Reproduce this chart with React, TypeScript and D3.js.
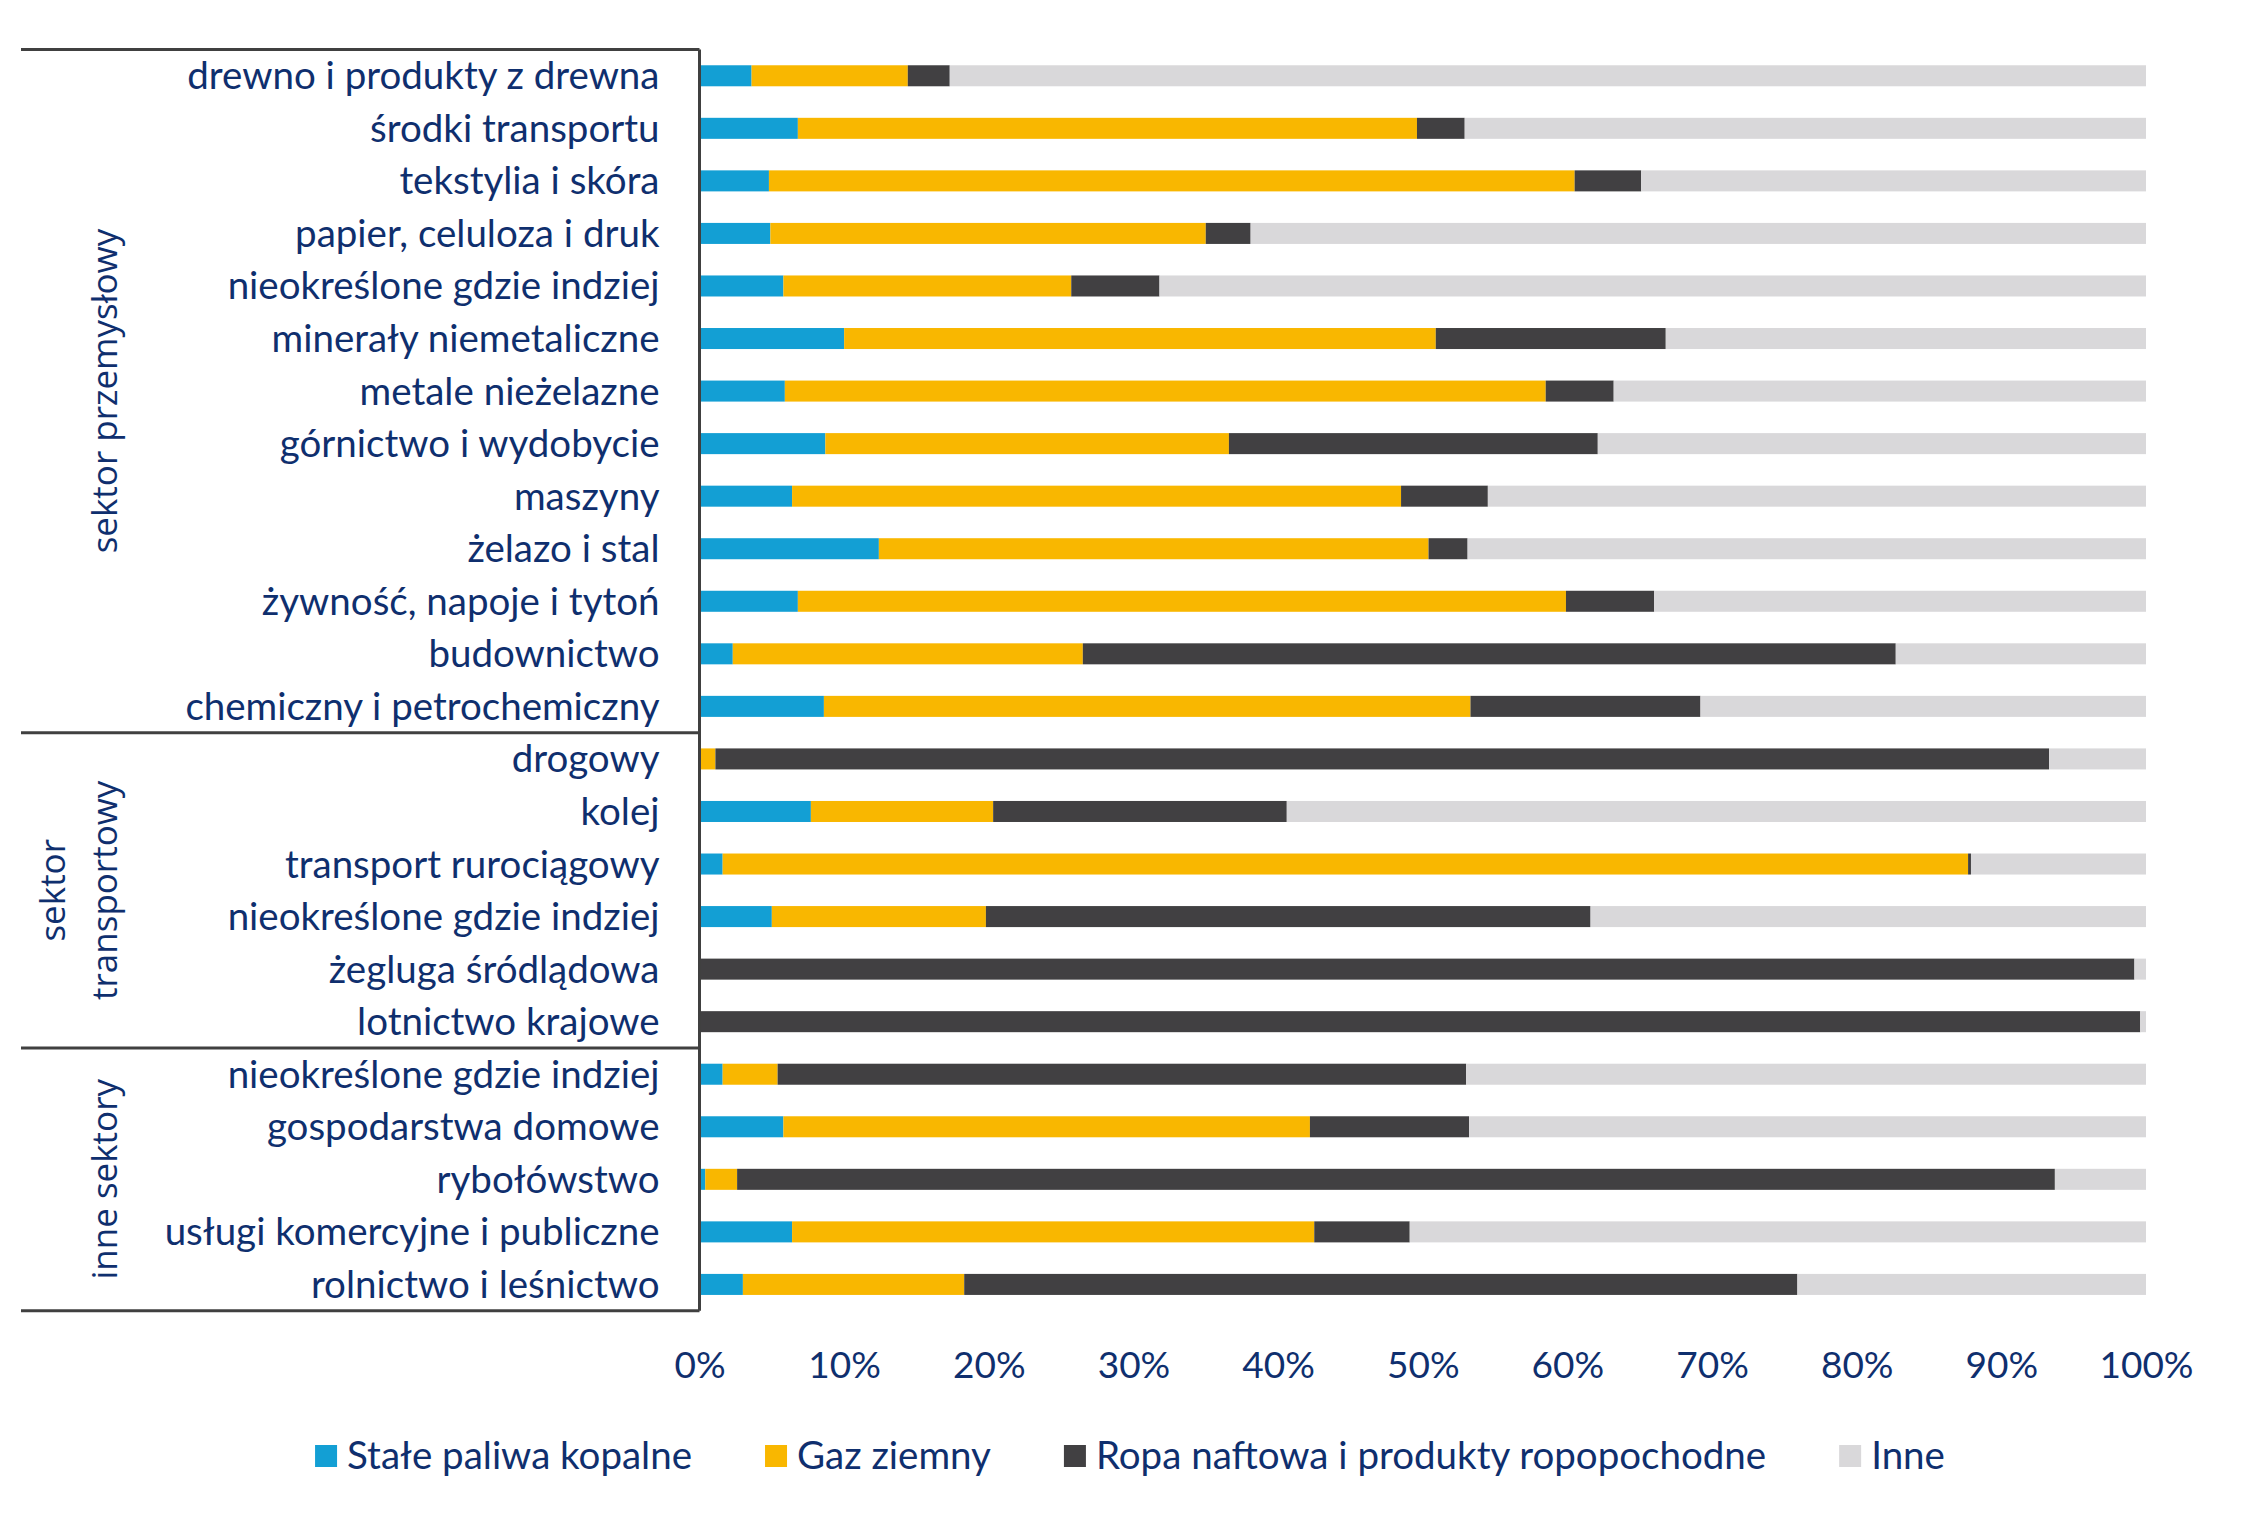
import * as d3 from 'd3';
import React from 'react';

// rows top to bottom, grouped by sector
const categories = [
    'drewno i produkty z drewna',
    'środki transportu',
    'tekstylia i skóra',
    'papier, celuloza i druk',
    'nieokreślone gdzie indziej',
    'minerały niemetaliczne',
    'metale nieżelazne',
    'górnictwo i wydobycie',
    'maszyny',
    'żelazo i stal',
    'żywność, napoje i tytoń',
    'budownictwo',
    'chemiczny i petrochemiczny',
    'drogowy',
    'kolej',
    'transport rurociągowy',
    'nieokreślone gdzie indziej',
    'żegluga śródlądowa',
    'lotnictwo krajowe',
    'nieokreślone gdzie indziej',
    'gospodarstwa domowe',
    'rybołówstwo',
    'usługi komercyjne i publiczne',
    'rolnictwo i leśnictwo',
];

// shares in % per row (same order as categories)
const solidFuels = [3.6, 6.8, 4.8, 4.9, 5.8, 10.0, 5.9, 8.7, 6.4, 12.4, 6.8, 2.3, 8.6, 0, 7.7, 1.6, 5.0, 0, 0, 1.6, 5.8, 0.4, 6.4, 3.0];
const naturalGas = [10.8, 42.8, 55.7, 30.1, 19.9, 40.9, 52.6, 27.9, 42.1, 38.0, 53.1, 24.2, 44.7, 1.1, 12.6, 86.1, 14.8, 0, 0, 3.8, 36.4, 2.2, 36.1, 15.3];
const crudeOil = [2.9, 3.3, 4.6, 3.1, 6.1, 15.9, 4.7, 25.5, 6.0, 2.7, 6.1, 56.2, 15.9, 92.2, 20.3, 0.2, 41.8, 99.2, 99.6, 47.6, 11.0, 91.1, 6.6, 57.6];
const otherFuels = [82.7, 47.1, 34.9, 61.9, 68.2, 33.2, 36.8, 37.9, 45.5, 46.9, 34.0, 17.3, 30.8, 6.7, 59.4, 12.1, 38.4, 0.8, 0.4, 47.0, 46.8, 6.3, 50.9, 24.1];

const seriesNames = ['Stałe paliwa kopalne', 'Gaz ziemny', 'Ropa naftowa i produkty ropopochodne', 'Inne'];
const seriesColors = ['#139fd4', '#f9b700', '#414042', '#d9d8da'];

const groupLabels = [['sektor przemysłowy'], ['sektor', 'transportowy'], ['inne sektory']];
const groupSizes = [13, 6, 5];

const xTicks = [0, 10, 20, 30, 40, 50, 60, 70, 80, 90, 100];

class EnergyMixChart extends React.Component {
    componentDidMount() {
        this.plot();
    }

    plot() {
        const width = 2243, height = 1523;
        const margin = { top: 49.5, left: 699.5, right: 97 };
        const rowStep = 52.55;
        const textColor = '#0f2f6e';
        const lineColor = '#404040';
        const labelFont = 'Lato, "Open Sans", sans-serif';

        const svg = d3.select('#energyChart');
        svg.selectAll('*').remove();

        svg.append('rect')
            .attr('width', width)
            .attr('height', height)
            .attr('fill', '#fff');

        const keys = ['solid', 'gas', 'oil', 'other'];
        const table = categories.map((c, i) => ({
            idx: i,
            solid: solidFuels[i],
            gas: naturalGas[i],
            oil: crudeOil[i],
            other: otherFuels[i],
        }));

        const x = d3.scaleLinear()
            .domain([0, 100])
            .range([margin.left, width - margin.right]);

        const bottom = margin.top + categories.length * rowStep;
        const y = d3.scaleBand()
            .domain(d3.range(categories.length))
            .range([margin.top, bottom])
            .paddingInner(0.6)
            .paddingOuter(0.3);

        const color = d3.scaleOrdinal().domain(keys).range(seriesColors);

        const stacked = d3.stack().keys(keys)(table);

        // stacked bars
        svg.append('g')
            .selectAll('g')
            .data(stacked)
            .join('g')
            .attr('fill', (d) => color(d.key))
            .selectAll('rect')
            .data((d) => d)
            .join('rect')
            .attr('x', (d) => x(d[0]))
            .attr('y', (d) => y(d.data.idx))
            .attr('width', (d) => Math.max(0, x(d[1]) - x(d[0])))
            .attr('height', y.bandwidth());

        // category labels
        svg.append('g')
            .selectAll('text')
            .data(categories)
            .join('text')
            .attr('x', margin.left - 40)
            .attr('y', (d, i) => y(i) + y.bandwidth() / 2)
            .attr('dy', '0.35em')
            .attr('text-anchor', 'end')
            .attr('fill', textColor)
            .style('font-family', labelFont)
            .style('font-size', '38.5px')
            .text((d) => d);

        // sector brackets
        const bounds = [0];
        groupSizes.forEach((s) => bounds.push(bounds[bounds.length - 1] + s));
        const brackets = svg.append('g')
            .attr('stroke', lineColor)
            .attr('stroke-width', 3);
        bounds.forEach((b) => {
            const yy = margin.top + b * rowStep;
            brackets.append('line')
                .attr('x1', 21)
                .attr('x2', margin.left)
                .attr('y1', yy)
                .attr('y2', yy);
        });
        brackets.append('line')
            .attr('x1', margin.left)
            .attr('x2', margin.left)
            .attr('y1', margin.top)
            .attr('y2', bottom);

        // rotated sector names
        groupLabels.forEach((lines, gi) => {
            const cy = margin.top + (bounds[gi] + bounds[gi + 1]) / 2 * rowStep;
            lines.forEach((line, li) => {
                const bx = 117 - (lines.length - 1 - li) * 52;
                svg.append('text')
                    .attr('transform', `translate(${bx},${cy}) rotate(-90)`)
                    .attr('text-anchor', 'middle')
                    .attr('fill', textColor)
                    .style('font-family', '"Open Sans", sans-serif')
                    .style('font-size', '35px')
                    .text(line);
            });
        });

        // percent axis
        const xAxis = d3.axisBottom(x)
            .tickValues(xTicks)
            .tickFormat((d) => `${d}%`)
            .tickSize(0)
            .tickPadding(0);

        const axisG = svg.append('g')
            .attr('transform', `translate(0,${1352})`)
            .call(xAxis);
        axisG.select('.domain').remove();
        axisG.selectAll('text')
            .attr('fill', textColor)
            .style('font-family', labelFont)
            .style('font-size', '37px');

        // legend, laid out left to right from the measured label widths
        const legend = svg.append('g');
        let cursor = 0;
        seriesNames.forEach((name, i) => {
            const item = legend.append('g').attr('transform', `translate(${cursor},0)`);
            item.append('rect')
                .attr('x', 0)
                .attr('y', -11)
                .attr('width', 22)
                .attr('height', 22)
                .attr('fill', seriesColors[i]);
            const label = item.append('text')
                .attr('x', 32)
                .attr('dy', '0.35em')
                .attr('fill', textColor)
                .style('font-family', labelFont)
                .style('font-size', '38.5px')
                .text(name);
            const w = label.node().getComputedTextLength();
            cursor += 32 + w + 73;
        });
        const legendWidth = cursor - 73;
        legend.attr('transform', `translate(${1130 - legendWidth / 2},${1456})`);
    }

    render() {
        return (
            <svg
                id="energyChart"
                width={2243}
                height={1523}
                style={{ position: 'absolute', left: 0, top: 0, display: 'block' }}
            />
        );
    }
}

export default function App() {
    return <EnergyMixChart />;
}
